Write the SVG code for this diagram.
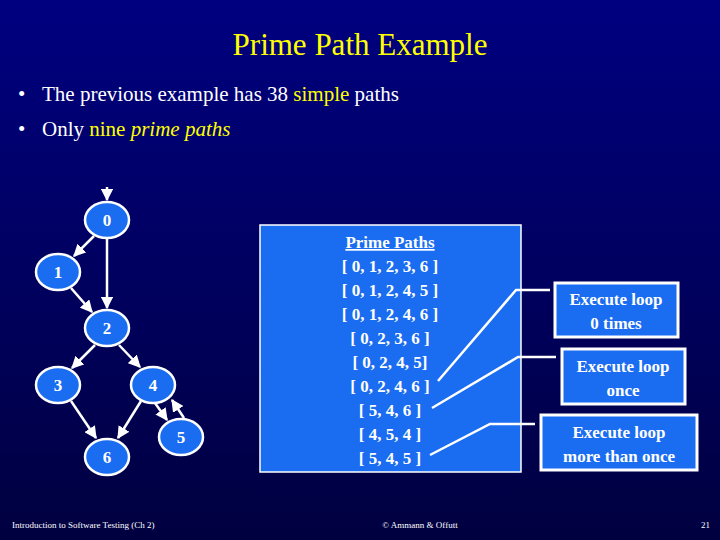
<svg xmlns="http://www.w3.org/2000/svg" width="720" height="540" viewBox="0 0 720 540">
<defs>
<linearGradient id="bg" x1="0" y1="0" x2="0" y2="1"><stop offset="0" stop-color="#000080"/><stop offset="1" stop-color="#000040"/></linearGradient>
<marker id="ah" viewBox="0 0 10 10" refX="9" refY="5" markerWidth="5" markerHeight="5" orient="auto"><path d="M0,0 L10,5 L0,10 z" fill="#fff"/></marker>
<style>
.n ellipse{fill:#1a6cf0;stroke:#fff;stroke-width:2.5}
.n text{font-family:"Liberation Serif",serif;font-weight:bold;font-size:17px;fill:#fff;text-anchor:middle}
.e line{stroke:#fff;stroke-width:2.5;marker-end:url(#ah)}
.b rect{fill:#1a6cf0;stroke:#fff;stroke-width:3}
.b text,.pp text{font-family:"Liberation Serif",serif;font-weight:bold;font-size:17px;fill:#fff;text-anchor:middle}
.cl polyline{fill:none;stroke:#fff;stroke-width:2.5}
.t{font-family:"Liberation Serif",serif;font-size:21px;fill:#fff}
.f{font-family:"Liberation Serif",serif;font-size:9px;fill:#fff}
</style>
</defs>
<rect width="720" height="540" fill="url(#bg)"/>
<text x="360" y="55" text-anchor="middle" font-family="Liberation Serif,serif" font-size="31" fill="#ffff00">Prime Path Example</text>
<text x="18" y="101" class="t" font-size="14">•</text>
<text x="42" y="101" class="t">The previous example has 38 <tspan fill="#ffff00">simple</tspan> paths</text>
<text x="18" y="136" class="t" font-size="14">•</text>
<text x="42" y="136" class="t">Only <tspan fill="#ffff00">nine <tspan font-style="italic">prime paths</tspan></tspan></text>
<g id="edges" class="e">
<line x1="107" y1="187" x2="107" y2="200"/>
<line x1="94" y1="236" x2="74" y2="256"/>
<line x1="107" y1="238" x2="107" y2="308"/>
<line x1="71" y1="288" x2="92" y2="312"/>
<line x1="95" y1="345" x2="72" y2="368"/>
<line x1="119" y1="345" x2="140" y2="367"/>
<line x1="71" y1="401" x2="96" y2="438"/>
<line x1="141" y1="401" x2="118" y2="438"/>
<line x1="155" y1="403" x2="167" y2="420"/>
<line x1="184" y1="418" x2="172" y2="400"/>
</g>
<g id="n0" class="n"><ellipse cx="107" cy="220" rx="22" ry="18"/><text x="107" y="226">0</text></g>
<g id="n1" class="n"><ellipse cx="58" cy="272" rx="22" ry="18"/><text x="58" y="278">1</text></g>
<g id="n2" class="n"><ellipse cx="107" cy="328" rx="22" ry="18"/><text x="107" y="334">2</text></g>
<g id="n3" class="n"><ellipse cx="58" cy="385" rx="22" ry="18"/><text x="58" y="391">3</text></g>
<g id="n4" class="n"><ellipse cx="153" cy="385" rx="22" ry="18"/><text x="153" y="391">4</text></g>
<g id="n5" class="n"><ellipse cx="181" cy="437" rx="22" ry="18"/><text x="181" y="443">5</text></g>
<g id="n6" class="n"><ellipse cx="107" cy="457" rx="22" ry="18"/><text x="107" y="463">6</text></g>
<g id="primepaths" class="pp">
<rect x="260" y="225" width="261" height="247" fill="#1a6cf0" stroke="#fff" stroke-width="1.5"/>
<text x="390" y="248" text-decoration="underline">Prime Paths</text>
<text x="390" y="272">[ 0, 1, 2, 3, 6 ]</text>
<text x="390" y="296">[ 0, 1, 2, 4, 5 ]</text>
<text x="390" y="320">[ 0, 1, 2, 4, 6 ]</text>
<text x="390" y="344">[ 0, 2, 3, 6 ]</text>
<text x="390" y="368">[ 0, 2, 4, 5]</text>
<text x="390" y="392">[ 0, 2, 4, 6 ]</text>
<text x="390" y="416">[ 5, 4, 6 ]</text>
<text x="390" y="440">[ 4, 5, 4 ]</text>
<text x="390" y="464">[ 5, 4, 5 ]</text>
</g>
<g id="callouts" class="cl">
<polyline points="438,381 516,290 550,290"/>
<polyline points="432,408 518,357 556,357"/>
<polyline points="430,455 490,424 535,424"/>
</g>
<g id="b1" class="b"><rect x="555" y="283" width="123" height="54"/><text x="616" y="305">Execute loop</text><text x="616" y="329">0 times</text></g>
<g id="b2" class="b"><rect x="562" y="349" width="123" height="55"/><text x="623" y="372">Execute loop</text><text x="623" y="396">once</text></g>
<g id="b3" class="b"><rect x="541" y="415" width="156" height="55"/><text x="619" y="438">Execute loop</text><text x="619" y="462">more than once</text></g>
<text x="12" y="528" class="f">Introduction to Software Testing (Ch 2)</text>
<text x="420" y="528" class="f" text-anchor="middle">© Ammann &amp; Offutt</text>
<text x="710" y="528" class="f" text-anchor="end">21</text>
</svg>
